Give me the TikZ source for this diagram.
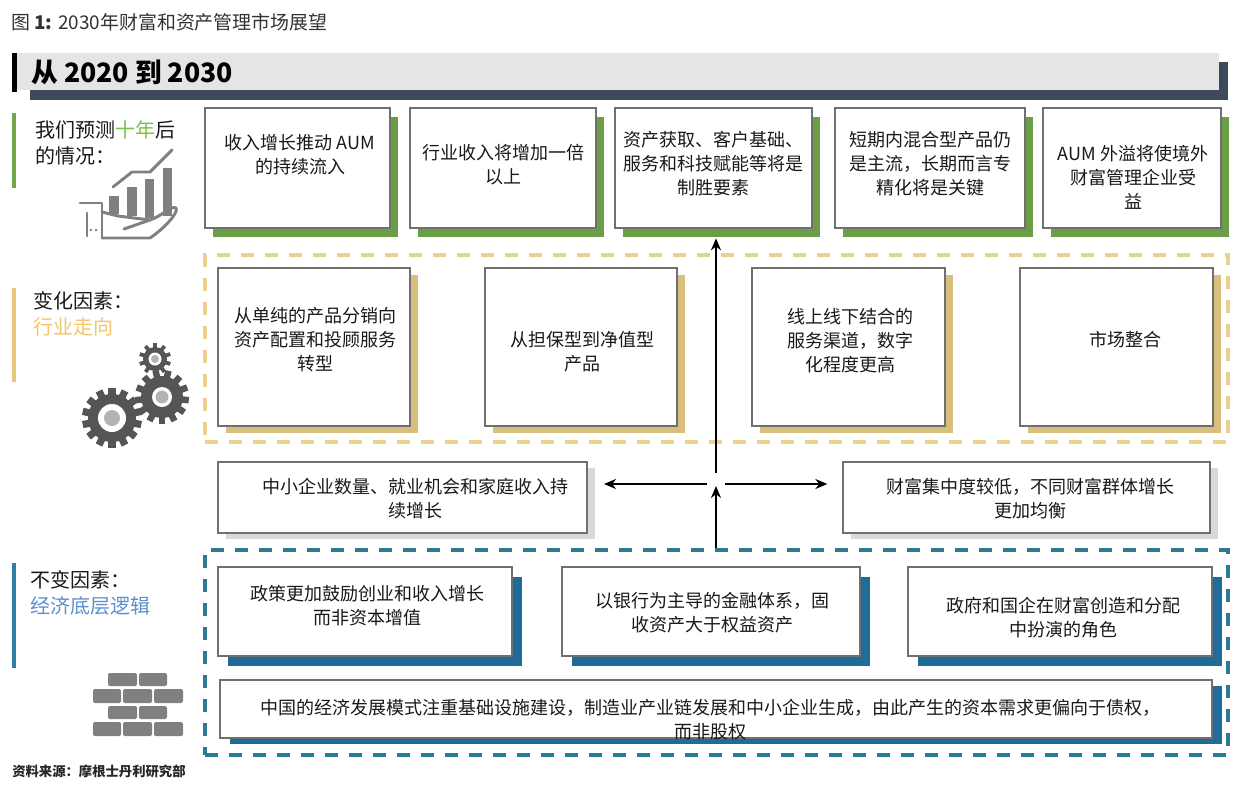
\documentclass[tikz,border=0pt]{standalone}
\usepackage{fontspec}
\setmainfont{Noto Sans CJK SC}
\usetikzlibrary{arrows.meta,fit,calc}
\definecolor{titlegray}{HTML}{333333}
\definecolor{hdrgray}{HTML}{E5E5E5}
\definecolor{hdrdark}{HTML}{3E4A5B}
\definecolor{grn}{HTML}{6B9C47}
\definecolor{grnbar}{HTML}{72A84B}
\definecolor{grntxt}{HTML}{7CC242}
\definecolor{yeldash}{HTML}{EAD18F}
\definecolor{yelsh}{HTML}{D8BF7C}
\definecolor{yelbar}{HTML}{E9C779}
\definecolor{yeltxt}{HTML}{F7C46A}
\definecolor{bluedash}{HTML}{2B7A92}
\definecolor{bluesh}{HTML}{1D6D98}
\definecolor{bluebar}{HTML}{2F7FA6}
\definecolor{bluetxt}{HTML}{5B8FCE}
\definecolor{boxgray}{HTML}{707070}
\definecolor{midsh}{HTML}{D9D9D9}
\definecolor{iconc}{HTML}{808080}
\definecolor{gearc}{HTML}{555555}
\definecolor{hubc}{HTML}{B4B4B4}
\newcommand{\mybox}[8]{%
  \fill[#6] (#2+#7,#3+#8) rectangle (#4+#7,#5+#8);
  \node[wbox, fit={(#2,#3) (#4,#5)}] (#1) {};}
\newcommand{\mygear}[7]{%
  \begin{scope}[shift={(#1,#2)}]
    \fill[gearc] (0,0) circle[radius=#3];
    \foreach \k in {1,...,#5} {\fill[gearc, rotate=\k*360/#5] (-#4*0.12,0) rectangle (#4*0.12,#4);}
    \fill[white] (0,0) circle[radius=#6];
    \fill[hubc] (0,0) circle[radius=#7];
  \end{scope}}
\begin{document}
\begin{tikzpicture}[x=0.75pt,y=-0.75pt,
  wbox/.style={draw=boxgray, line width=1.5pt, fill=white, inner sep=0pt},
  txt/.style={align=center, font=\fontsize{13.5}{18}\selectfont, text=black!90, inner sep=0pt},
  lbl/.style={align=left, anchor=west, font=\fontsize{15}{20}\selectfont, text=black!90, inner sep=0pt},
  arr/.style={-{Stealth[length=9pt,width=7.5pt]}, line width=1.5pt},
  iconline/.style={draw=iconc, line width=2.2pt, line join=round, line cap=round},
  frame/.style={line width=3pt, dash pattern=on 10pt off 8pt, inner sep=0pt}]
\useasboundingbox[fill=white] (0,0) rectangle (1249,789);

% title
\node[anchor=west, text=titlegray, font=\fontsize{14.2}{17}\selectfont, inner sep=0pt] (title) at (11,22) {图 \textbf{1:} 2030年财富和资产管理市场展望};

% header
\fill[hdrdark] (30,62) rectangle (1228,100);
\fill[hdrgray] (12,53) rectangle (1219,90);
\fill[black] (12,53) rectangle (17,92);
\node[anchor=west, font=\fontsize{20}{24}\selectfont\bfseries, inner sep=0pt] (hdr) at (31,72) {从 2020 到 2030};

% left bars and labels
\fill[grnbar] (12,113) rectangle (16,188);
\fill[yelbar] (12,288) rectangle (16,382);
\fill[bluebar] (12,563) rectangle (16,668);
\node[lbl] (l1) at (35,143) {我们预测\textcolor{grntxt}{十年}后\\的情况：};
\node[lbl] (l2) at (33,314) {变化因素：\\\textcolor{yeltxt}{行业走向}};
\node[lbl] (l3) at (30,593) {不变因素：\\\textcolor{bluetxt}{经济底层逻辑}};

% chart in hand icon
\fill[iconc] (109,196) rectangle (119,214);
\fill[iconc] (127,187) rectangle (137,216);
\fill[iconc] (145,179) rectangle (154,218);
\fill[iconc] (163,168) rectangle (172,216);
\draw[iconline] (113,187) -- (132,172) -- (150,172) -- (172,150);
\draw[iconline] (80,203) -- (102,203) -- (102,238);
\draw[iconline] (87,213) -- (87,236);
\draw[iconline] (102,212) -- (118,216) -- (150,220) .. controls (162,216) and (172,205) .. (176,208)
  .. controls (179,212) and (165,228) .. (150,238) -- (102,238);
\draw[iconline] (124,229) -- (150,220);
\fill[iconc] (91,230) circle[radius=1.3];
\fill[iconc] (96,230) circle[radius=1.3];

% gears
\mygear{112}{418}{24}{30}{14}{14}{8}
\mygear{162}{397}{21}{27}{13}{10}{6.5}
\mygear{155}{359}{12}{16}{10}{6.5}{4}

% bricks
\foreach \ya/\yb in {673/686, 706/719} {
  \foreach \xa/\xb in {108/137, 139/167} {\fill[iconc, rounded corners=1.5pt] (\xa,\ya) rectangle (\xb,\yb);}}
\foreach \ya/\yb in {689/703, 722/736} {
  \foreach \xa/\xb in {93/121, 123/152, 154/183} {\fill[iconc, rounded corners=1.5pt] (\xa,\ya) rectangle (\xb,\yb);}}

% footer
\node[anchor=west, font=\fontsize{10}{12}\selectfont\bfseries, text=black!85, inner sep=0pt] (src) at (12,771) {资料来源：摩根士丹利研究部};

% frames
\node[frame, draw=yeldash, fit={(205,255) (1228,442)}] (yframe) {};
\node[frame, draw=bluedash, fit={(205,550) (1228,755)}] (bframe) {};

% top row
\mybox{b1}{205}{108}{390}{228}{grn}{8}{9}
\mybox{b2}{410}{108}{596}{228}{grn}{8}{9}
\mybox{b3}{615}{108}{812}{228}{grn}{8}{9}
\mybox{b4}{835}{108}{1025}{228}{grn}{8}{9}
\mybox{b5}{1043}{108}{1221}{228}{grn}{8}{9}
\node[txt] (t1) at (300,155) {收入增长推动 AUM\\的持续流入};
\node[txt] (t2) at (503,165) {行业收入将增加一倍\\以上};
\node[txt] (t3) at (713,164) {资产获取、客户基础、\\服务和科技赋能等将是\\制胜要素};
\node[txt] (t4) at (930,164) {短期内混合型产品仍\\是主流，长期而言专\\精化将是关键};
\node[txt] (t5) at (1133,177) {AUM 外溢将使境外\\财富管理企业受\\益};

% yellow row
\mybox{y1}{218}{268}{410}{426}{yelsh}{8}{7}
\mybox{y2}{485}{268}{677}{426}{yelsh}{8}{7}
\mybox{y3}{752}{268}{945}{426}{yelsh}{8}{7}
\mybox{y4}{1020}{268}{1213}{426}{yelsh}{8}{7}
\node[txt] (u1) at (315,340) {从单纯的产品分销向\\资产配置和投顾服务\\转型};
\node[txt] (u2) at (582,352) {从担保型到净值型\\产品};
\node[txt] (u3) at (850,341) {线上线下结合的\\服务渠道，数字\\化程度更高};
\node[txt] (u4) at (1125,340) {市场整合};

% middle row
\mybox{m1}{218}{462}{587}{533}{midsh}{8}{6}
\mybox{m2}{843}{462}{1210}{533}{midsh}{8}{6}
\node[txt] (v1) at (415,499) {中小企业数量、就业机会和家庭收入持\\续增长};
\node[txt] (v2) at (1030,499) {财富集中度较低，不同财富群体增长\\更加均衡};

% blue row
\mybox{c1}{218}{567}{512}{656}{bluesh}{10}{10}
\mybox{c2}{562}{567}{860}{656}{bluesh}{10}{10}
\mybox{c3}{908}{567}{1212}{656}{bluesh}{10}{10}
\mybox{d1}{220}{680}{1212}{738}{bluesh}{10}{6}
\node[txt] (w1) at (367,606) {政策更加鼓励创业和收入增长\\而非资本增值};
\node[txt] (w2) at (712,613) {以银行为主导的金融体系，固\\收资产大于权益资产};
\node[txt] (w3) at (1063,618) {政府和国企在财富创造和分配\\中扮演的角色};
\node[txt] (w4) at (710,720) {中国的经济发展模式注重基础设施建设，制造业产业链发展和中小企业生成，由此产生的资本需求更偏向于债权，\\而非股权};

% arrows
\coordinate (hub) at (716,484);
\draw[arr] (bframe.north -| hub) -- ($(hub)+(0,2)$);
\draw[arr, shorten >=7pt] ($(hub)+(0,-11)$) -- (b3.south -| hub);
\draw[arr, shorten >=12pt] ($(hub)+(-9,0)$) -- (m1.east |- hub);
\draw[arr, shorten >=11pt] ($(hub)+(9,0)$) -- (m2.west |- hub);
\end{tikzpicture}
\end{document}
